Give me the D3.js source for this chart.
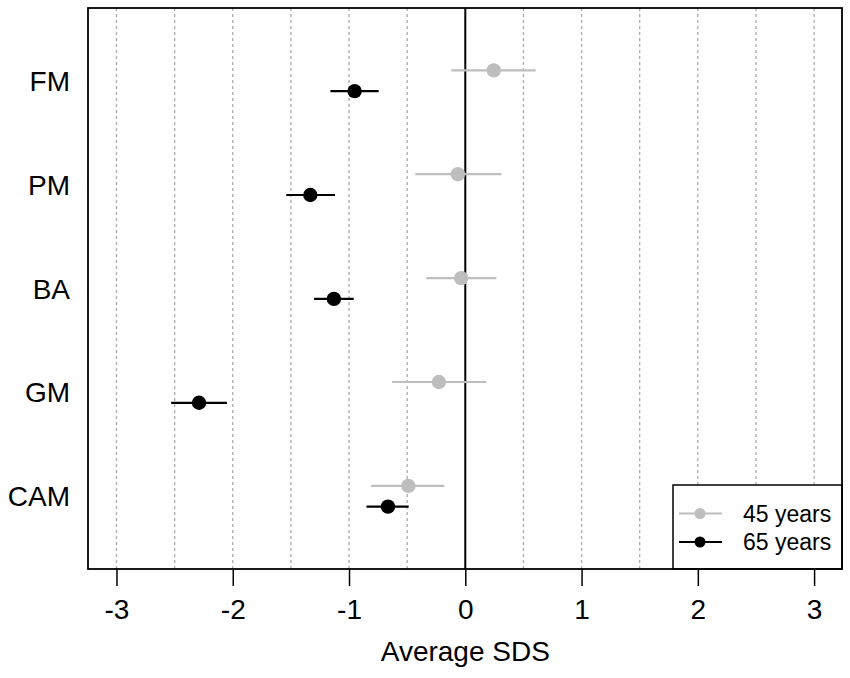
<!DOCTYPE html>
<meta charset="utf-8">
<style>
  body { margin: 0; background: #fff; }
  text { font-family: "Liberation Sans", Arial, sans-serif; fill: #000; }
  .grid line { stroke: #aaa; stroke-width: 1.3; stroke-dasharray: 3,3; }
</style>
<svg width="850" height="678"></svg>
<script src="https://d3js.org/d3.v7.min.js"></script>
<script>

  var categories = ["FM", "PM", "BA", "GM", "CAM"];
  var groups = ["45 years", "65 years"];
  var groupColors = ["#bebebe", "#000000"];

  // mean, lower, upper per category
  var mean45 = [0.245, -0.064, -0.035, -0.227, -0.49];
  var lower45 = [-0.12, -0.43, -0.335, -0.63, -0.81];
  var upper45 = [0.605, 0.31, 0.267, 0.18, -0.18];

  var mean65 = [-0.952, -1.333, -1.13, -2.29, -0.665];
  var lower65 = [-1.16, -1.54, -1.30, -2.53, -0.85];
  var upper65 = [-0.745, -1.12, -0.96, -2.05, -0.487];

  var xTicks = [-3, -2, -1, 0, 1, 2, 3];
  var gridTicks = [-3, -2.5, -2, -1.5, -1, -0.5, 0.5, 1, 1.5, 2, 2.5, 3];

  var svg = d3.select("svg"),
      margin = {top: 8, right: 8, bottom: 109, left: 88},
      width = +svg.attr("width") - margin.left - margin.right,
      height = +svg.attr("height") - margin.top - margin.bottom;

  var x = d3.scaleLinear().domain([-3.245, 3.24]).range([0, width]);
  var y = d3.scalePoint().domain(categories).range([0, height]).padding(0.7);
  var offset = y.step() * 0.1;

  var g = svg.append("g")
    .attr("transform", "translate(" + margin.left + "," + margin.top + ")");

  // dashed grid
  g.append("g")
    .attr("class", "grid")
    .selectAll("line")
    .data(gridTicks)
    .enter().append("line")
    .attr("x1", function(d) { return x(d); })
    .attr("x2", function(d) { return x(d); })
    .attr("y1", 0)
    .attr("y2", height);

  // zero line
  g.append("line")
    .attr("x1", x(0)).attr("x2", x(0))
    .attr("y1", 0).attr("y2", height)
    .attr("stroke", "#000").attr("stroke-width", 2);

  // x axis
  var xAxis = g.append("g")
    .attr("transform", "translate(0," + height + ")")
    .call(d3.axisBottom(x).tickValues(xTicks).tickSize(17).tickPadding(13)
      .tickFormat(function(d) { return d < 0 ? "-" + Math.abs(d) : d; }));
  xAxis.select(".domain").remove();
  xAxis.selectAll(".tick line").attr("stroke", "#000").attr("stroke-width", 1.5);
  xAxis.selectAll(".tick text").style("font-size", "28px")
    .style("font-family", "Liberation Sans, Arial, sans-serif").attr("fill", "#000");

  // y labels
  g.selectAll(".ylab")
    .data(categories)
    .enter().append("text")
    .attr("class", "ylab")
    .attr("x", -18)
    .attr("y", function(d) { return y(d); })
    .attr("dy", "0.36em")
    .attr("text-anchor", "end")
    .style("font-size", "28px")
    .text(function(d) { return d; });

  // series
  var series = [
    {mean: mean45, lower: lower45, upper: upper45, color: groupColors[0], dy: -offset},
    {mean: mean65, lower: lower65, upper: upper65, color: groupColors[1], dy: offset}
  ];

  series.forEach(function(s) {
    var sg = g.append("g");
    sg.selectAll("line")
      .data(categories)
      .enter().append("line")
      .attr("x1", function(d, i) { return x(s.lower[i]); })
      .attr("x2", function(d, i) { return x(s.upper[i]); })
      .attr("y1", function(d) { return y(d) + s.dy; })
      .attr("y2", function(d) { return y(d) + s.dy; })
      .attr("stroke", s.color)
      .attr("stroke-width", 2.2);
    sg.selectAll("circle")
      .data(categories)
      .enter().append("circle")
      .attr("cx", function(d, i) { return x(s.mean[i]); })
      .attr("cy", function(d) { return y(d) + s.dy; })
      .attr("r", 7.2)
      .attr("fill", s.color);
  });

  // legend
  var lg = g.append("g")
    .attr("transform", "translate(" + (673 - margin.left) + "," + (485 - margin.top) + ")");
  lg.append("rect")
    .attr("width", width - (673 - margin.left))
    .attr("height", height - (485 - margin.top))
    .attr("fill", "#fff")
    .attr("stroke", "#000")
    .attr("stroke-width", 1.5);
  groups.forEach(function(name, i) {
    var row = lg.append("g").attr("transform", "translate(0," + (28.5 + i * 28.5) + ")");
    row.append("line")
      .attr("x1", 6).attr("x2", 49)
      .attr("stroke", groupColors[i]).attr("stroke-width", 2);
    row.append("circle")
      .attr("cx", 27).attr("r", 5.5)
      .attr("fill", groupColors[i]);
    row.append("text")
      .attr("x", 70)
      .attr("dy", "0.36em")
      .style("font-size", "23px")
      .text(name);
  });

  // plot frame
  g.append("rect")
    .attr("width", width)
    .attr("height", height)
    .attr("fill", "none")
    .attr("stroke", "#000")
    .attr("stroke-width", 1.8);

  // axis title
  svg.append("text")
    .attr("x", margin.left + x(0))
    .attr("y", 661)
    .attr("text-anchor", "middle")
    .style("font-size", "28px")
    .text("Average SDS");

</script>
